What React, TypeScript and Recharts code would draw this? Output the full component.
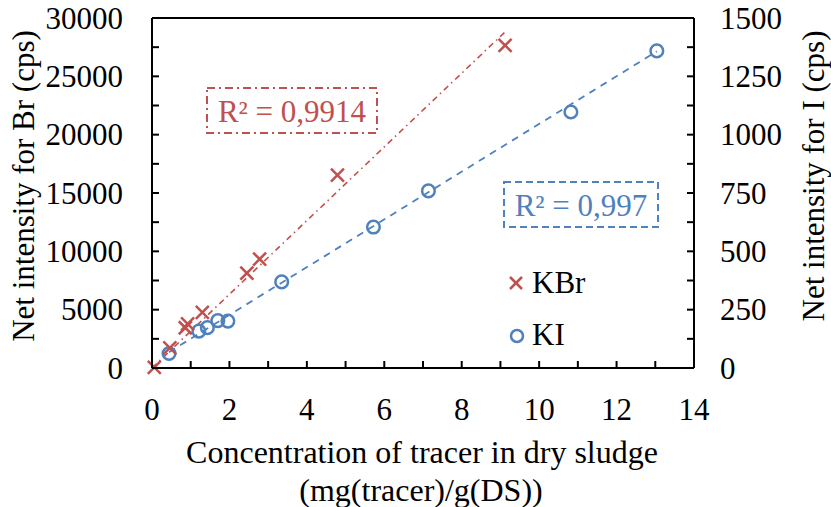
import React from 'react';
import { ScatterChart, Scatter, XAxis, YAxis, ReferenceLine, Customized } from 'recharts';

const RED = '#C0504D';
const BLUE = '#4F81BD';
const FONT = '"Liberation Serif", "Times New Roman", serif';

// KBr (left axis, cps)
const kbrX = [0.06, 0.46, 0.86, 0.92, 1.3, 2.45, 2.78, 4.79, 9.12];
const kbrY = [60, 1720, 3450, 3780, 4760, 8140, 9340, 16540, 27650];
// KI (right axis, cps)
const kiX = [0.44, 1.21, 1.43, 1.7, 1.96, 3.35, 5.72, 7.14, 10.82, 13.04];
const kiY = [62, 158, 173, 203, 201, 369, 604, 759, 1097, 1359];

// trend lines
const brTrendX = [0, 9.15];
const brTrendY = [0, 28900];
const iTrendX = [0.44, 13.04];
const iTrendY = [68, 1357];

const xTicks = [0, 1, 2, 3, 4, 5, 6, 7, 8, 9, 10, 11, 12, 13, 14];
const leftTicks = [0, 2500, 5000, 7500, 10000, 12500, 15000, 17500, 20000, 22500, 25000, 27500, 30000];
const rightTicks = [0, 125, 250, 375, 500, 625, 750, 875, 1000, 1125, 1250, 1375, 1500];

const kbrData = kbrX.map((x, i) => ({ x, y: kbrY[i] }));
const kiData = kiX.map((x, i) => ({ x, y: kiY[i] }));
const brTrend = brTrendX.map((x, i) => ({ x, y: brTrendY[i] }));
const iTrend = iTrendX.map((x, i) => ({ x, y: iTrendY[i] }));

const PL = 152, PR = 694, PT = 18, PB = 368;
const FS = 31;

const LeftTick = (props: any) => {
  const { y, payload } = props;
  const v = payload.value;
  return (
    <g>
      <line x1={PL} x2={PL + 7} y1={y} y2={y} stroke="#000" strokeWidth={2} />
      {v % 5000 === 0 && (
        <text x={123} y={y} textAnchor="end" dominantBaseline="central" fontFamily={FONT} fontSize={FS} fill="#000">{v}</text>
      )}
    </g>
  );
};

const RightTick = (props: any) => {
  const { y, payload } = props;
  const v = payload.value;
  return (
    <g>
      <line x1={PR} x2={PR - 7} y1={y} y2={y} stroke="#000" strokeWidth={2} />
      {v % 250 === 0 && (
        <text x={720} y={y} textAnchor="start" dominantBaseline="central" fontFamily={FONT} fontSize={FS} fill="#000">{v}</text>
      )}
    </g>
  );
};

const BottomTick = (props: any) => {
  const { x, payload } = props;
  const v = payload.value;
  return (
    <g>
      <line x1={x} x2={x} y1={PB} y2={PB - 7} stroke="#000" strokeWidth={2} />
      {v % 2 === 0 && (
        <text x={x} y={409} textAnchor="middle" dominantBaseline="central" fontFamily={FONT} fontSize={FS} fill="#000">{v}</text>
      )}
    </g>
  );
};

const Cross = (props: any) => {
  const { cx, cy } = props;
  const s = 6.5;
  return (
    <g>
      <line x1={cx - s} y1={cy - s} x2={cx + s} y2={cy + s} stroke={RED} strokeWidth={2.5} />
      <line x1={cx - s} y1={cy + s} x2={cx + s} y2={cy - s} stroke={RED} strokeWidth={2.5} />
    </g>
  );
};

const Ring = (props: any) => {
  const { cx, cy } = props;
  return <circle cx={cx} cy={cy} r={6.3} fill="none" stroke={BLUE} strokeWidth={2.5} />;
};

const Empty = () => <g />;

const Overlay = () => (
  <g fontFamily={FONT}>
    <rect x={207} y={88} width={170} height={45} fill="#fff" stroke={RED} strokeWidth={2} strokeDasharray="8 4 2 4" />
    <text x={292} y={111} textAnchor="middle" dominantBaseline="central" fontSize={FS} fill={RED}>R² = 0,9914</text>
    <rect x={504} y={182} width={154} height={45} fill="#fff" stroke={BLUE} strokeWidth={2} strokeDasharray="7 4" />
    <text x={581} y={205} textAnchor="middle" dominantBaseline="central" fontSize={FS} fill={BLUE}>R² = 0,997</text>
    <line x1={510} y1={277} x2={522} y2={289} stroke={RED} strokeWidth={2.5} />
    <line x1={510} y1={289} x2={522} y2={277} stroke={RED} strokeWidth={2.5} />
    <text x={532} y={293} fontSize={FS} fill="#000">KBr</text>
    <circle cx={517} cy={336} r={6} fill="none" stroke={BLUE} strokeWidth={2.5} />
    <text x={532} y={345} fontSize={FS} fill="#000">KI</text>
    <text transform="translate(23,186) rotate(-90)" textAnchor="middle" dominantBaseline="central" fontSize={FS} fill="#000">Net intensity for Br (cps)</text>
    <text transform="translate(813,176) rotate(-90)" textAnchor="middle" dominantBaseline="central" fontSize={FS} fill="#000">Net intensity for I (cps)</text>
    <text x={422} y={452} textAnchor="middle" dominantBaseline="central" fontSize={32} fill="#000">Concentration of tracer in dry sludge</text>
    <text x={421} y={490} textAnchor="middle" dominantBaseline="central" fontSize={32} fill="#000">(mg(tracer)/g(DS))</text>
  </g>
);

export default function App() {
  return (
    <div style={{ position: 'absolute', left: 0, top: 0, width: 831, height: 507, background: '#fff' }}>
      <ScatterChart width={831} height={507} margin={{ top: PT, right: 0, bottom: 0, left: 0 }}>
        <XAxis
          type="number"
          dataKey="x"
          domain={[0, 14]}
          ticks={xTicks}
          interval={0}
          height={139}
          tickSize={0}
          tickLine={false}
          axisLine={{ stroke: '#000', strokeWidth: 2 }}
          tick={<BottomTick />}
        />
        <YAxis
          yAxisId="left"
          type="number"
          dataKey="y"
          domain={[0, 30000]}
          ticks={leftTicks}
          interval={0}
          width={PL}
          tickSize={0}
          tickLine={false}
          axisLine={{ stroke: '#000', strokeWidth: 2 }}
          tick={<LeftTick />}
        />
        <YAxis
          yAxisId="right"
          orientation="right"
          type="number"
          dataKey="y"
          domain={[0, 1500]}
          ticks={rightTicks}
          interval={0}
          width={831 - PR}
          tickSize={0}
          tickLine={false}
          axisLine={{ stroke: '#000', strokeWidth: 2 }}
          tick={<RightTick />}
        />
        <ReferenceLine yAxisId="left" y={30000} stroke="#000" strokeWidth={2} />
        <Scatter
          yAxisId="left"
          data={brTrend}
          line={{ stroke: RED, strokeWidth: 1.6, strokeDasharray: '6 4 1.5 4' }}
          shape={<Empty />}
          isAnimationActive={false}
          legendType="none"
        />
        <Scatter
          yAxisId="right"
          data={iTrend}
          line={{ stroke: BLUE, strokeWidth: 1.8, strokeDasharray: '7 6' }}
          shape={<Empty />}
          isAnimationActive={false}
          legendType="none"
        />
        <Scatter yAxisId="right" data={kiData} shape={<Ring />} isAnimationActive={false} />
        <Scatter yAxisId="left" data={kbrData} shape={<Cross />} isAnimationActive={false} />
        <Customized component={Overlay} />
      </ScatterChart>
    </div>
  );
}
